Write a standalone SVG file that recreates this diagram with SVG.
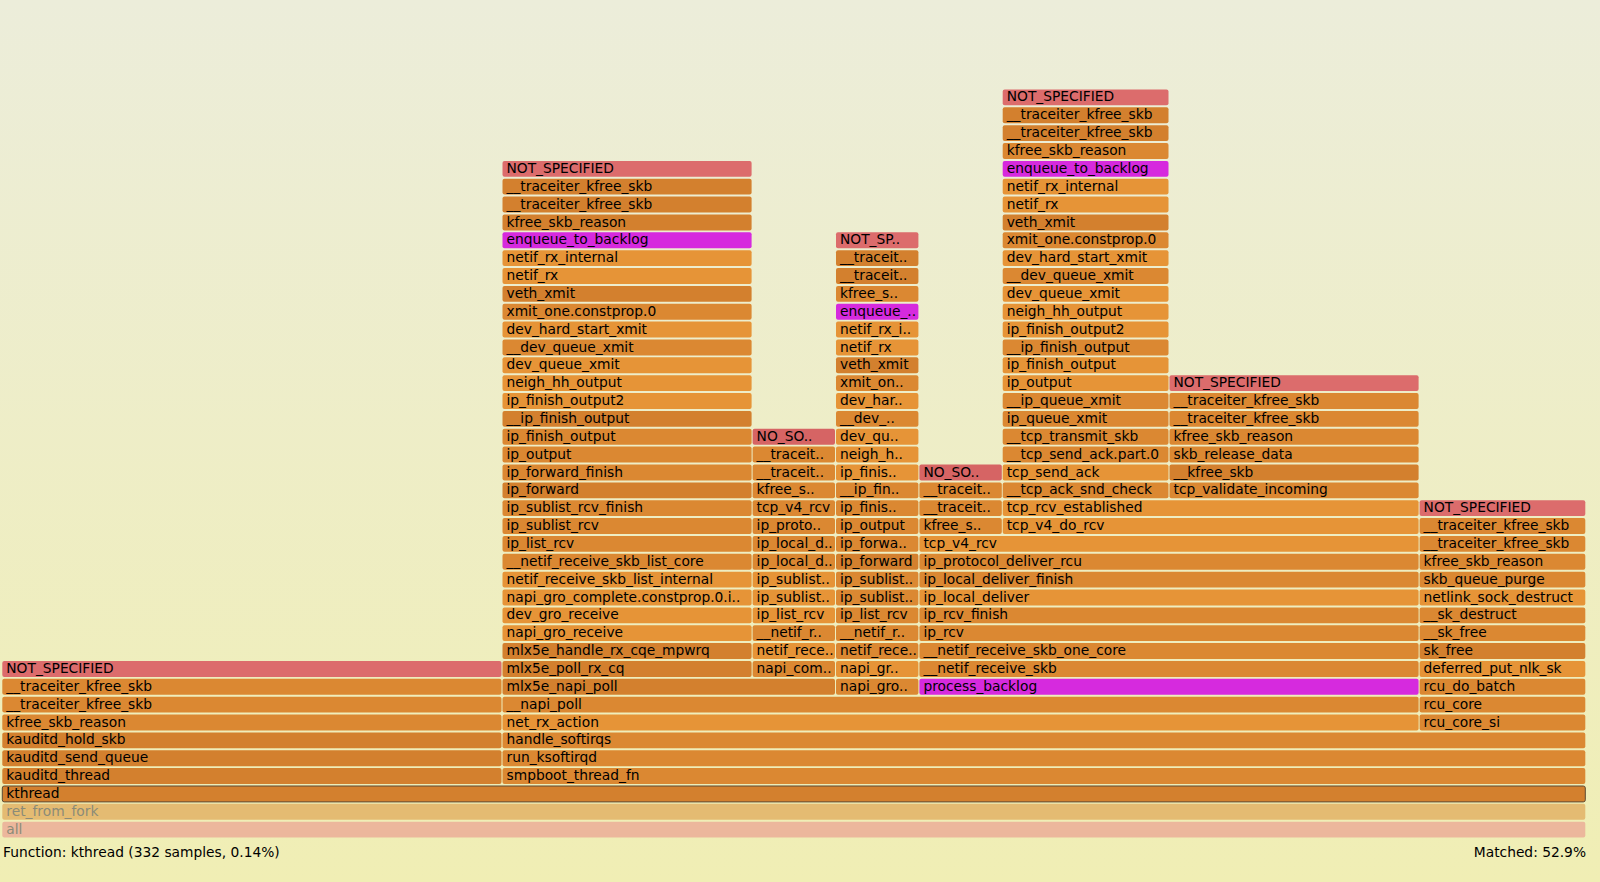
<svg xmlns="http://www.w3.org/2000/svg" width="1600" height="882" viewBox="0 0 1600 882">
<defs>
<linearGradient id="bg" x1="0" y1="0" x2="0" y2="1">
<stop offset="0%" stop-color="#ecedda"/>
<stop offset="100%" stop-color="#f0eeb4"/>
</linearGradient>
</defs>
<style>
text{font-family:"DejaVu Sans",Verdana,sans-serif;font-size:13.8px;fill:#000}
rect.d,rect.m,rect.l,rect.r,rect.p,rect.n,rect.k,rect.f,rect.a{rx:2px;ry:2px}
.d{fill:#d3802e}.m{fill:#db8832}.l{fill:#e69437}.r{fill:#dc6c6c}.n{fill:#d66464}.p{fill:#d62ade}
.k{fill:#d3802e;stroke:#5c4a33;stroke-width:1}
.f{fill:#e4bb72}.a{fill:#ecb79c}
.g text{fill:#8b8b78}
</style>
<rect x="0" y="0" width="1600" height="882" fill="url(#bg)"/>
<g id="connectors"/>
<g id="frames">
<g id="f0_all" class="g" transform="translate(2.3,821.7)"><rect class="a" width="1583" height="15.9"/><text x="4" y="12">all</text></g>
<g id="f1_ret_from_fork" class="g" transform="translate(2.3,803.8)"><rect class="f" width="1583" height="15.9"/><text x="4" y="12">ret_from_fork</text></g>
<g id="f2_kthread" transform="translate(2.3,786)"><rect class="k" width="1583" height="15.9"/><text x="4" y="12">kthread</text></g>

<g id="f3_L" transform="translate(2.3,768.1)"><rect class="d" width="499.2" height="15.9"/><text x="4" y="12">kauditd_thread</text></g>
<g id="f3_AG" transform="translate(502.5,768.1)"><rect class="m" width="1082.8" height="15.9"/><text x="4" y="12">smpboot_thread_fn</text></g>

<g id="f4_L" transform="translate(2.3,750.3)"><rect class="d" width="499.2" height="15.9"/><text x="4" y="12">kauditd_send_queue</text></g>
<g id="f4_AG" transform="translate(502.5,750.3)"><rect class="m" width="1082.8" height="15.9"/><text x="4" y="12">run_ksoftirqd</text></g>

<g id="f5_L" transform="translate(2.3,732.4)"><rect class="d" width="499.2" height="15.9"/><text x="4" y="12">kauditd_hold_skb</text></g>
<g id="f5_AG" transform="translate(502.5,732.4)"><rect class="m" width="1082.8" height="15.9"/><text x="4" y="12">handle_softirqs</text></g>

<g id="f6_L" transform="translate(2.3,714.5)"><rect class="m" width="499.2" height="15.9"/><text x="4" y="12">kfree_skb_reason</text></g>
<g id="f6_AF" transform="translate(502.5,714.5)"><rect class="l" width="916.1" height="15.9"/><text x="4" y="12">net_rx_action</text></g>
<g id="f6_G" transform="translate(1419.6,714.5)"><rect class="m" width="165.7" height="15.9"/><text x="4" y="12">rcu_core_si</text></g>

<g id="f7_L" transform="translate(2.3,696.7)"><rect class="m" width="499.2" height="15.9"/><text x="4" y="12">__traceiter_kfree_skb</text></g>
<g id="f7_AF" transform="translate(502.5,696.7)"><rect class="m" width="916.1" height="15.9"/><text x="4" y="12">__napi_poll</text></g>
<g id="f7_G" transform="translate(1419.6,696.7)"><rect class="m" width="165.7" height="15.9"/><text x="4" y="12">rcu_core</text></g>

<g id="f8_L" transform="translate(2.3,678.8)"><rect class="m" width="499.2" height="15.9"/><text x="4" y="12">__traceiter_kfree_skb</text></g>
<g id="f8_AB" transform="translate(502.5,678.8)"><rect class="d" width="332.5" height="15.9"/><text x="4" y="12">mlx5e_napi_poll</text></g>
<g id="f8_C" transform="translate(836,678.8)"><rect class="m" width="82.4" height="15.9"/><text x="4" y="12">napi_gro..</text></g>
<g id="f8_DEF" transform="translate(919.4,678.8)"><rect class="p" width="499.2" height="15.9"/><text x="4" y="12">process_backlog</text></g>
<g id="f8_G" transform="translate(1419.6,678.8)"><rect class="m" width="165.7" height="15.9"/><text x="4" y="12">rcu_do_batch</text></g>

<g id="f9_L" transform="translate(2.3,661)"><rect class="r" width="499.2" height="15.9"/><text x="4" y="12">NOT_SPECIFIED</text></g>
<g id="f9_A" transform="translate(502.5,661)"><rect class="d" width="249.1" height="15.9"/><text x="4" y="12">mlx5e_poll_rx_cq</text></g>
<g id="f9_B" transform="translate(752.6,661)"><rect class="m" width="82.4" height="15.9"/><text x="4" y="12">napi_com..</text></g>
<g id="f9_C" transform="translate(836,661)"><rect class="l" width="82.4" height="15.9"/><text x="4" y="12">napi_gr..</text></g>
<g id="f9_DEF" transform="translate(919.4,661)"><rect class="m" width="499.2" height="15.9"/><text x="4" y="12">__netif_receive_skb</text></g>
<g id="f9_G" transform="translate(1419.6,661)"><rect class="l" width="165.7" height="15.9"/><text x="4" y="12">deferred_put_nlk_sk</text></g>

<g id="f10_A" transform="translate(502.5,643.1)"><rect class="d" width="249.1" height="15.9"/><text x="4" y="12">mlx5e_handle_rx_cqe_mpwrq</text></g>
<g id="f10_B" transform="translate(752.6,643.1)"><rect class="l" width="82.4" height="15.9"/><text x="4" y="12">netif_rece..</text></g>
<g id="f10_C" transform="translate(836,643.1)"><rect class="m" width="82.4" height="15.9"/><text x="4" y="12">netif_rece..</text></g>
<g id="f10_DEF" transform="translate(919.4,643.1)"><rect class="m" width="499.2" height="15.9"/><text x="4" y="12">__netif_receive_skb_one_core</text></g>
<g id="f10_G" transform="translate(1419.6,643.1)"><rect class="d" width="165.7" height="15.9"/><text x="4" y="12">sk_free</text></g>

<g id="f11_A" transform="translate(502.5,625.2)"><rect class="l" width="249.1" height="15.9"/><text x="4" y="12">napi_gro_receive</text></g>
<g id="f11_B" transform="translate(752.6,625.2)"><rect class="m" width="82.4" height="15.9"/><text x="4" y="12">__netif_r..</text></g>
<g id="f11_C" transform="translate(836,625.2)"><rect class="m" width="82.4" height="15.9"/><text x="4" y="12">__netif_r..</text></g>
<g id="f11_DEF" transform="translate(919.4,625.2)"><rect class="m" width="499.2" height="15.9"/><text x="4" y="12">ip_rcv</text></g>
<g id="f11_G" transform="translate(1419.6,625.2)"><rect class="m" width="165.7" height="15.9"/><text x="4" y="12">__sk_free</text></g>

<g id="f12_A" transform="translate(502.5,607.4)"><rect class="l" width="249.1" height="15.9"/><text x="4" y="12">dev_gro_receive</text></g>
<g id="f12_B" transform="translate(752.6,607.4)"><rect class="l" width="82.4" height="15.9"/><text x="4" y="12">ip_list_rcv</text></g>
<g id="f12_C" transform="translate(836,607.4)"><rect class="m" width="82.4" height="15.9"/><text x="4" y="12">ip_list_rcv</text></g>
<g id="f12_DEF" transform="translate(919.4,607.4)"><rect class="m" width="499.2" height="15.9"/><text x="4" y="12">ip_rcv_finish</text></g>
<g id="f12_G" transform="translate(1419.6,607.4)"><rect class="m" width="165.7" height="15.9"/><text x="4" y="12">__sk_destruct</text></g>

<g id="f13_A" transform="translate(502.5,589.5)"><rect class="l" width="249.1" height="15.9"/><text x="4" y="12">napi_gro_complete.constprop.0.i..</text></g>
<g id="f13_B" transform="translate(752.6,589.5)"><rect class="l" width="82.4" height="15.9"/><text x="4" y="12">ip_sublist..</text></g>
<g id="f13_C" transform="translate(836,589.5)"><rect class="m" width="82.4" height="15.9"/><text x="4" y="12">ip_sublist..</text></g>
<g id="f13_DEF" transform="translate(919.4,589.5)"><rect class="l" width="499.2" height="15.9"/><text x="4" y="12">ip_local_deliver</text></g>
<g id="f13_G" transform="translate(1419.6,589.5)"><rect class="l" width="165.7" height="15.9"/><text x="4" y="12">netlink_sock_destruct</text></g>

<g id="f14_A" transform="translate(502.5,571.7)"><rect class="l" width="249.1" height="15.9"/><text x="4" y="12">netif_receive_skb_list_internal</text></g>
<g id="f14_B" transform="translate(752.6,571.7)"><rect class="l" width="82.4" height="15.9"/><text x="4" y="12">ip_sublist..</text></g>
<g id="f14_C" transform="translate(836,571.7)"><rect class="m" width="82.4" height="15.9"/><text x="4" y="12">ip_sublist..</text></g>
<g id="f14_DEF" transform="translate(919.4,571.7)"><rect class="m" width="499.2" height="15.9"/><text x="4" y="12">ip_local_deliver_finish</text></g>
<g id="f14_G" transform="translate(1419.6,571.7)"><rect class="m" width="165.7" height="15.9"/><text x="4" y="12">skb_queue_purge</text></g>

<g id="f15_A" transform="translate(502.5,553.8)"><rect class="m" width="249.1" height="15.9"/><text x="4" y="12">__netif_receive_skb_list_core</text></g>
<g id="f15_B" transform="translate(752.6,553.8)"><rect class="m" width="82.4" height="15.9"/><text x="4" y="12">ip_local_d..</text></g>
<g id="f15_C" transform="translate(836,553.8)"><rect class="d" width="82.4" height="15.9"/><text x="4" y="12">ip_forward</text></g>
<g id="f15_DEF" transform="translate(919.4,553.8)"><rect class="m" width="499.2" height="15.9"/><text x="4" y="12">ip_protocol_deliver_rcu</text></g>
<g id="f15_G" transform="translate(1419.6,553.8)"><rect class="m" width="165.7" height="15.9"/><text x="4" y="12">kfree_skb_reason</text></g>

<g id="f16_A" transform="translate(502.5,535.9)"><rect class="m" width="249.1" height="15.9"/><text x="4" y="12">ip_list_rcv</text></g>
<g id="f16_B" transform="translate(752.6,535.9)"><rect class="m" width="82.4" height="15.9"/><text x="4" y="12">ip_local_d..</text></g>
<g id="f16_C" transform="translate(836,535.9)"><rect class="m" width="82.4" height="15.9"/><text x="4" y="12">ip_forwa..</text></g>
<g id="f16_DEF" transform="translate(919.4,535.9)"><rect class="l" width="499.2" height="15.9"/><text x="4" y="12">tcp_v4_rcv</text></g>
<g id="f16_G" transform="translate(1419.6,535.9)"><rect class="m" width="165.7" height="15.9"/><text x="4" y="12">__traceiter_kfree_skb</text></g>

<g id="f17_A" transform="translate(502.5,518.1)"><rect class="m" width="249.1" height="15.9"/><text x="4" y="12">ip_sublist_rcv</text></g>
<g id="f17_B" transform="translate(752.6,518.1)"><rect class="m" width="82.4" height="15.9"/><text x="4" y="12">ip_proto..</text></g>
<g id="f17_C" transform="translate(836,518.1)"><rect class="m" width="82.4" height="15.9"/><text x="4" y="12">ip_output</text></g>
<g id="f17_D" transform="translate(919.4,518.1)"><rect class="m" width="82.4" height="15.9"/><text x="4" y="12">kfree_s..</text></g>
<g id="f17_EF" transform="translate(1002.7,518.1)"><rect class="l" width="415.9" height="15.9"/><text x="4" y="12">tcp_v4_do_rcv</text></g>
<g id="f17_G" transform="translate(1419.6,518.1)"><rect class="m" width="165.7" height="15.9"/><text x="4" y="12">__traceiter_kfree_skb</text></g>

<g id="f18_A" transform="translate(502.5,500.2)"><rect class="m" width="249.1" height="15.9"/><text x="4" y="12">ip_sublist_rcv_finish</text></g>
<g id="f18_B" transform="translate(752.6,500.2)"><rect class="m" width="82.4" height="15.9"/><text x="4" y="12">tcp_v4_rcv</text></g>
<g id="f18_C" transform="translate(836,500.2)"><rect class="m" width="82.4" height="15.9"/><text x="4" y="12">ip_finis..</text></g>
<g id="f18_D" transform="translate(919.4,500.2)"><rect class="m" width="82.4" height="15.9"/><text x="4" y="12">__traceit..</text></g>
<g id="f18_EF" transform="translate(1002.7,500.2)"><rect class="l" width="415.9" height="15.9"/><text x="4" y="12">tcp_rcv_established</text></g>
<g id="f18_G" transform="translate(1419.6,500.2)"><rect class="r" width="165.7" height="15.9"/><text x="4" y="12">NOT_SPECIFIED</text></g>

<g id="f19_A" transform="translate(502.5,482.4)"><rect class="d" width="249.1" height="15.9"/><text x="4" y="12">ip_forward</text></g>
<g id="f19_B" transform="translate(752.6,482.4)"><rect class="m" width="82.4" height="15.9"/><text x="4" y="12">kfree_s..</text></g>
<g id="f19_C" transform="translate(836,482.4)"><rect class="m" width="82.4" height="15.9"/><text x="4" y="12">__ip_fin..</text></g>
<g id="f19_D" transform="translate(919.4,482.4)"><rect class="m" width="82.4" height="15.9"/><text x="4" y="12">__traceit..</text></g>
<g id="f19_E" transform="translate(1002.7,482.4)"><rect class="m" width="165.8" height="15.9"/><text x="4" y="12">__tcp_ack_snd_check</text></g>
<g id="f19_F" transform="translate(1169.5,482.4)"><rect class="m" width="249.1" height="15.9"/><text x="4" y="12">tcp_validate_incoming</text></g>

<g id="f20_A" transform="translate(502.5,464.5)"><rect class="m" width="249.1" height="15.9"/><text x="4" y="12">ip_forward_finish</text></g>
<g id="f20_B" transform="translate(752.6,464.5)"><rect class="m" width="82.4" height="15.9"/><text x="4" y="12">__traceit..</text></g>
<g id="f20_C" transform="translate(836,464.5)"><rect class="l" width="82.4" height="15.9"/><text x="4" y="12">ip_finis..</text></g>
<g id="f20_D" transform="translate(919.4,464.5)"><rect class="n" width="82.4" height="15.9"/><text x="4" y="12">NO_SO..</text></g>
<g id="f20_E" transform="translate(1002.7,464.5)"><rect class="l" width="165.8" height="15.9"/><text x="4" y="12">tcp_send_ack</text></g>
<g id="f20_F" transform="translate(1169.5,464.5)"><rect class="d" width="249.1" height="15.9"/><text x="4" y="12">__kfree_skb</text></g>

<g id="f21_A" transform="translate(502.5,446.6)"><rect class="m" width="249.1" height="15.9"/><text x="4" y="12">ip_output</text></g>
<g id="f21_B" transform="translate(752.6,446.6)"><rect class="m" width="82.4" height="15.9"/><text x="4" y="12">__traceit..</text></g>
<g id="f21_C" transform="translate(836,446.6)"><rect class="l" width="82.4" height="15.9"/><text x="4" y="12">neigh_h..</text></g>
<g id="f21_E" transform="translate(1002.7,446.6)"><rect class="m" width="165.8" height="15.9"/><text x="4" y="12">__tcp_send_ack.part.0</text></g>
<g id="f21_F" transform="translate(1169.5,446.6)"><rect class="m" width="249.1" height="15.9"/><text x="4" y="12">skb_release_data</text></g>

<g id="f22_A" transform="translate(502.5,428.8)"><rect class="m" width="249.1" height="15.9"/><text x="4" y="12">ip_finish_output</text></g>
<g id="f22_B" transform="translate(752.6,428.8)"><rect class="n" width="82.4" height="15.9"/><text x="4" y="12">NO_SO..</text></g>
<g id="f22_C" transform="translate(836,428.8)"><rect class="l" width="82.4" height="15.9"/><text x="4" y="12">dev_qu..</text></g>
<g id="f22_E" transform="translate(1002.7,428.8)"><rect class="m" width="165.8" height="15.9"/><text x="4" y="12">__tcp_transmit_skb</text></g>
<g id="f22_F" transform="translate(1169.5,428.8)"><rect class="m" width="249.1" height="15.9"/><text x="4" y="12">kfree_skb_reason</text></g>

<g id="f23_A" transform="translate(502.5,410.9)"><rect class="d" width="249.1" height="15.9"/><text x="4" y="12">__ip_finish_output</text></g>
<g id="f23_C" transform="translate(836,410.9)"><rect class="m" width="82.4" height="15.9"/><text x="4" y="12">__dev_..</text></g>
<g id="f23_E" transform="translate(1002.7,410.9)"><rect class="m" width="165.8" height="15.9"/><text x="4" y="12">ip_queue_xmit</text></g>
<g id="f23_F" transform="translate(1169.5,410.9)"><rect class="m" width="249.1" height="15.9"/><text x="4" y="12">__traceiter_kfree_skb</text></g>

<g id="f24_A" transform="translate(502.5,393.1)"><rect class="l" width="249.1" height="15.9"/><text x="4" y="12">ip_finish_output2</text></g>
<g id="f24_C" transform="translate(836,393.1)"><rect class="l" width="82.4" height="15.9"/><text x="4" y="12">dev_har..</text></g>
<g id="f24_E" transform="translate(1002.7,393.1)"><rect class="m" width="165.8" height="15.9"/><text x="4" y="12">__ip_queue_xmit</text></g>
<g id="f24_F" transform="translate(1169.5,393.1)"><rect class="m" width="249.1" height="15.9"/><text x="4" y="12">__traceiter_kfree_skb</text></g>

<g id="f25_A" transform="translate(502.5,375.2)"><rect class="l" width="249.1" height="15.9"/><text x="4" y="12">neigh_hh_output</text></g>
<g id="f25_C" transform="translate(836,375.2)"><rect class="m" width="82.4" height="15.9"/><text x="4" y="12">xmit_on..</text></g>
<g id="f25_E" transform="translate(1002.7,375.2)"><rect class="l" width="165.8" height="15.9"/><text x="4" y="12">ip_output</text></g>
<g id="f25_F" transform="translate(1169.5,375.2)"><rect class="r" width="249.1" height="15.9"/><text x="4" y="12">NOT_SPECIFIED</text></g>

<g id="f26_A" transform="translate(502.5,357.3)"><rect class="l" width="249.1" height="15.9"/><text x="4" y="12">dev_queue_xmit</text></g>
<g id="f26_C" transform="translate(836,357.3)"><rect class="d" width="82.4" height="15.9"/><text x="4" y="12">veth_xmit</text></g>
<g id="f26_E" transform="translate(1002.7,357.3)"><rect class="l" width="165.8" height="15.9"/><text x="4" y="12">ip_finish_output</text></g>

<g id="f27_A" transform="translate(502.5,339.5)"><rect class="m" width="249.1" height="15.9"/><text x="4" y="12">__dev_queue_xmit</text></g>
<g id="f27_C" transform="translate(836,339.5)"><rect class="l" width="82.4" height="15.9"/><text x="4" y="12">netif_rx</text></g>
<g id="f27_E" transform="translate(1002.7,339.5)"><rect class="m" width="165.8" height="15.9"/><text x="4" y="12">__ip_finish_output</text></g>

<g id="f28_A" transform="translate(502.5,321.6)"><rect class="l" width="249.1" height="15.9"/><text x="4" y="12">dev_hard_start_xmit</text></g>
<g id="f28_C" transform="translate(836,321.6)"><rect class="l" width="82.4" height="15.9"/><text x="4" y="12">netif_rx_i..</text></g>
<g id="f28_E" transform="translate(1002.7,321.6)"><rect class="l" width="165.8" height="15.9"/><text x="4" y="12">ip_finish_output2</text></g>

<g id="f29_A" transform="translate(502.5,303.8)"><rect class="m" width="249.1" height="15.9"/><text x="4" y="12">xmit_one.constprop.0</text></g>
<g id="f29_C" transform="translate(836,303.8)"><rect class="p" width="82.4" height="15.9"/><text x="4" y="12">enqueue_..</text></g>
<g id="f29_E" transform="translate(1002.7,303.8)"><rect class="l" width="165.8" height="15.9"/><text x="4" y="12">neigh_hh_output</text></g>

<g id="f30_A" transform="translate(502.5,285.9)"><rect class="d" width="249.1" height="15.9"/><text x="4" y="12">veth_xmit</text></g>
<g id="f30_C" transform="translate(836,285.9)"><rect class="m" width="82.4" height="15.9"/><text x="4" y="12">kfree_s..</text></g>
<g id="f30_E" transform="translate(1002.7,285.9)"><rect class="l" width="165.8" height="15.9"/><text x="4" y="12">dev_queue_xmit</text></g>

<g id="f31_A" transform="translate(502.5,268)"><rect class="l" width="249.1" height="15.9"/><text x="4" y="12">netif_rx</text></g>
<g id="f31_C" transform="translate(836,268)"><rect class="d" width="82.4" height="15.9"/><text x="4" y="12">__traceit..</text></g>
<g id="f31_E" transform="translate(1002.7,268)"><rect class="m" width="165.8" height="15.9"/><text x="4" y="12">__dev_queue_xmit</text></g>

<g id="f32_A" transform="translate(502.5,250.2)"><rect class="l" width="249.1" height="15.9"/><text x="4" y="12">netif_rx_internal</text></g>
<g id="f32_C" transform="translate(836,250.2)"><rect class="d" width="82.4" height="15.9"/><text x="4" y="12">__traceit..</text></g>
<g id="f32_E" transform="translate(1002.7,250.2)"><rect class="l" width="165.8" height="15.9"/><text x="4" y="12">dev_hard_start_xmit</text></g>

<g id="f33_A" transform="translate(502.5,232.3)"><rect class="p" width="249.1" height="15.9"/><text x="4" y="12">enqueue_to_backlog</text></g>
<g id="f33_C" transform="translate(836,232.3)"><rect class="r" width="82.4" height="15.9"/><text x="4" y="12">NOT_SP..</text></g>
<g id="f33_E" transform="translate(1002.7,232.3)"><rect class="m" width="165.8" height="15.9"/><text x="4" y="12">xmit_one.constprop.0</text></g>

<g id="f34_A" transform="translate(502.5,214.5)"><rect class="d" width="249.1" height="15.9"/><text x="4" y="12">kfree_skb_reason</text></g>
<g id="f34_E" transform="translate(1002.7,214.5)"><rect class="d" width="165.8" height="15.9"/><text x="4" y="12">veth_xmit</text></g>

<g id="f35_A" transform="translate(502.5,196.6)"><rect class="d" width="249.1" height="15.9"/><text x="4" y="12">__traceiter_kfree_skb</text></g>
<g id="f35_E" transform="translate(1002.7,196.6)"><rect class="l" width="165.8" height="15.9"/><text x="4" y="12">netif_rx</text></g>

<g id="f36_A" transform="translate(502.5,178.7)"><rect class="d" width="249.1" height="15.9"/><text x="4" y="12">__traceiter_kfree_skb</text></g>
<g id="f36_E" transform="translate(1002.7,178.7)"><rect class="l" width="165.8" height="15.9"/><text x="4" y="12">netif_rx_internal</text></g>

<g id="f37_A" transform="translate(502.5,160.9)"><rect class="r" width="249.1" height="15.9"/><text x="4" y="12">NOT_SPECIFIED</text></g>
<g id="f37_E" transform="translate(1002.7,160.9)"><rect class="p" width="165.8" height="15.9"/><text x="4" y="12">enqueue_to_backlog</text></g>

<g id="f38_E" transform="translate(1002.7,143)"><rect class="m" width="165.8" height="15.9"/><text x="4" y="12">kfree_skb_reason</text></g>
<g id="f39_E" transform="translate(1002.7,125.2)"><rect class="d" width="165.8" height="15.9"/><text x="4" y="12">__traceiter_kfree_skb</text></g>
<g id="f40_E" transform="translate(1002.7,107.3)"><rect class="d" width="165.8" height="15.9"/><text x="4" y="12">__traceiter_kfree_skb</text></g>
<g id="f41_E" transform="translate(1002.7,89.4)"><rect class="r" width="165.8" height="15.9"/><text x="4" y="12">NOT_SPECIFIED</text></g>
</g>
<g id="status">
<text x="3" y="856.7">Function: kthread (332 samples, 0.14%)</text>
<text x="1586" y="856.7" text-anchor="end">Matched: 52.9%</text>
</g>
</svg>
